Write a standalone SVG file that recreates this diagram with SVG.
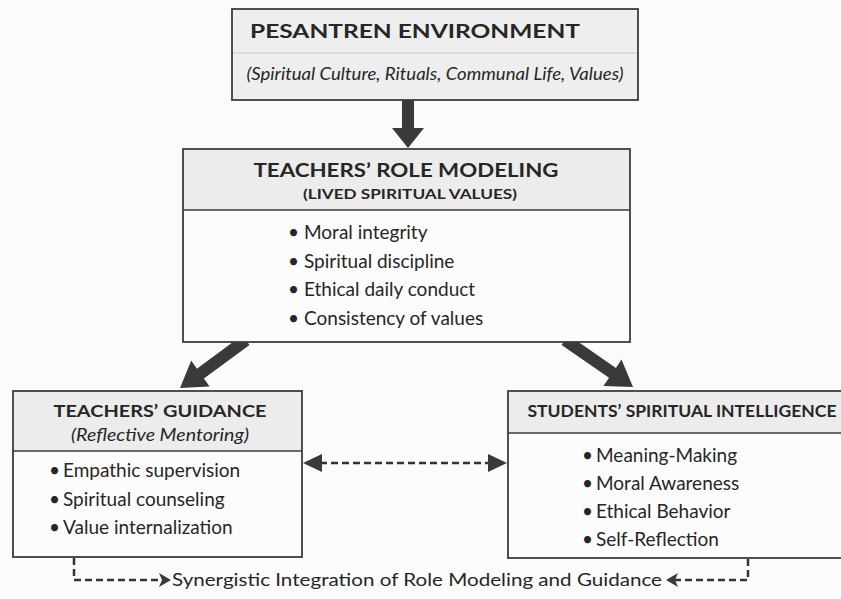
<svg xmlns="http://www.w3.org/2000/svg" width="841" height="599" viewBox="0 0 841 599">
<defs>
<style>
text{font-family:Lato,"Open Sans","Liberation Sans",sans-serif;fill:#262626}
.box{fill:#fcfcfc;stroke:#3c3c3c;stroke-width:1.8}
.hdr{fill:#ececec}
.sep{stroke:#3c3c3c;stroke-width:1.5}
.t1{font-size:19.5px;font-weight:700;text-anchor:middle}
.t2{font-size:17px;font-weight:700;text-anchor:middle}
.sub{font-size:14px;font-weight:700;text-anchor:middle}
.it{font-size:17px;font-style:italic;text-anchor:middle}
.b{font-size:19px}
.arrow{fill:#3a3a3a}
.dash{fill:none;stroke:#333;stroke-width:2.5;stroke-dasharray:7 4}
</style>
</defs>
<rect width="841" height="599" fill="#fbfbfb"/>
<g id="connectors">
<polygon class="arrow" points="402,99 414,99 414,128 424,128 408,148 392,128 402,128"/>
<polygon class="arrow" points="249.5,344.9 203.9,378.5 209.6,386.6 180,388 191.2,360.5 196.9,368.7 242.5,335.1"/>
<polygon class="arrow" points="561.6,344.9 609,377.7 603.4,386 633,387 621.5,359.6 615.9,367.9 568.4,335.1"/>
<line class="dash" x1="320" y1="463" x2="490" y2="463" stroke-width="3" stroke-dasharray="8 5"/>
<polygon class="arrow" points="303,463 322,454 322,472"/>
<polygon class="arrow" points="507,463 488,454 488,472"/>
<polyline class="dash" points="74,558 74,580 162,580"/>
<polygon class="arrow" points="171,580 159,573 162,580 159,587"/>
<polyline class="dash" points="748,559 748,580 675,580"/>
<polygon class="arrow" points="666,580 678,573 675,580 678,587"/>
<text x="417" y="586" font-size="18" text-anchor="middle" textLength="490" lengthAdjust="spacingAndGlyphs">Synergistic Integration of Role Modeling and Guidance</text>
</g>
<g id="pesantren">
<rect x="232" y="9" width="406" height="91" fill="#eeeeee" stroke="#3c3c3c" stroke-width="1.8"/>
<line x1="233" y1="53" x2="637" y2="53" stroke="#c8c8c8" stroke-width="1.2"/>
<text class="t1" x="415" y="38" textLength="330" lengthAdjust="spacingAndGlyphs">PESANTREN ENVIRONMENT</text>
<text class="it" x="435" y="80" font-size="16.5" textLength="377" lengthAdjust="spacingAndGlyphs">(Spiritual Culture, Rituals, Communal Life, Values)</text>
</g>
<g id="role-modeling">
<rect class="box" x="183" y="149" width="447" height="193"/>
<rect class="hdr" x="184" y="150" width="445" height="60"/>
<line class="sep" x1="183" y1="210" x2="630" y2="210"/>
<text class="t1" x="406" y="177" textLength="305" lengthAdjust="spacingAndGlyphs">TEACHERS’ ROLE MODELING</text>
<text class="sub" x="410" y="199" textLength="214" lengthAdjust="spacingAndGlyphs">(LIVED SPIRITUAL VALUES)</text>
<text class="b" y="239"><tspan x="288">•</tspan><tspan x="304">Moral integrity</tspan></text>
<text class="b" y="268"><tspan x="288">•</tspan><tspan x="304">Spiritual discipline</tspan></text>
<text class="b" y="296"><tspan x="288">•</tspan><tspan x="304">Ethical daily conduct</tspan></text>
<text class="b" y="325"><tspan x="288">•</tspan><tspan x="304">Consistency of values</tspan></text>
</g>
<g id="guidance">
<rect class="box" x="13" y="391" width="289" height="166"/>
<rect class="hdr" x="14" y="392" width="287" height="59"/>
<line class="sep" x1="13" y1="451" x2="302" y2="451"/>
<text class="t2" x="160" y="417" textLength="213" lengthAdjust="spacingAndGlyphs">TEACHERS’ GUIDANCE</text>
<text class="it" x="160" y="441" textLength="178" lengthAdjust="spacingAndGlyphs">(Reflective Mentoring)</text>
<text class="b" y="477"><tspan x="49">•</tspan><tspan x="63">Empathic supervision</tspan></text>
<text class="b" y="506"><tspan x="49">•</tspan><tspan x="63">Spiritual counseling</tspan></text>
<text class="b" y="534"><tspan x="49">•</tspan><tspan x="63">Value internalization</tspan></text>
</g>
<g id="students">
<rect class="box" x="508" y="391" width="340" height="167"/>
<rect class="hdr" x="509" y="392" width="338" height="41"/>
<line class="sep" x1="508" y1="433" x2="848" y2="433"/>
<text class="t2" x="682" y="417" font-size="16" textLength="309" lengthAdjust="spacingAndGlyphs">STUDENTS’ SPIRITUAL INTELLIGENCE</text>
<text class="b" y="462"><tspan x="582">•</tspan><tspan x="596">Meaning-Making</tspan></text>
<text class="b" y="490"><tspan x="582">•</tspan><tspan x="596">Moral Awareness</tspan></text>
<text class="b" y="518"><tspan x="582">•</tspan><tspan x="596">Ethical Behavior</tspan></text>
<text class="b" y="546"><tspan x="582">•</tspan><tspan x="596">Self-Reflection</tspan></text>
</g>
</svg>
